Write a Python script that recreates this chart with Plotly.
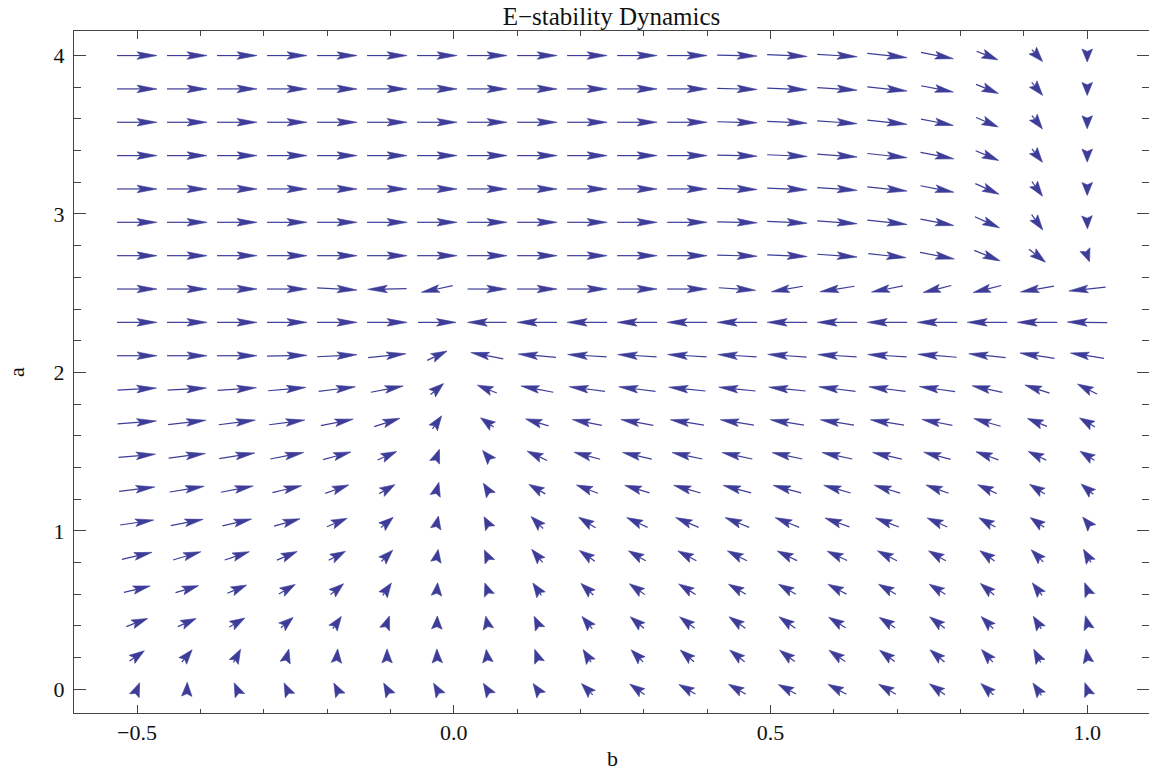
import math
import numpy as np
import plotly.graph_objects as go

# grid of the vector plot
b_grid = list(np.linspace(-0.5, 1.0, 20))
a_grid = list(np.linspace(0.0, 4.0, 20))

# arrow direction on screen (degrees, 0 = +b, 90 = +a), read per row (a index 0..19), columns b index 0..19
ang_r0 = [68, 88, 114, 115, 117, 119, 120, 122, 125, 135, 145, 150, 150, 152, 152, 150, 145, 138, 125, 110]
ang_r1 = [35, 50, 62, 75, 85, 90, 92, 97, 110, 122, 135, 140, 142, 143, 145, 143, 140, 132, 118, 100]
ang_r2 = [21, 24, 30, 40, 55, 70, 88, 102, 115, 130, 140, 143, 145, 145, 148, 147, 143, 135, 122, 105]
ang_r3 = [14, 17, 23, 30, 40, 55, 85, 110, 125, 137, 145, 148, 150, 150, 152, 150, 148, 140, 128, 112]
ang_r4 = [13, 16.6, 18.7, 23, 28, 45, 80, 115, 130, 145, 150, 152, 153, 154, 155, 153, 150, 145, 135, 120]
ang_r5 = [8.5, 11, 13.4, 16, 22.6, 40, 78, 118, 135, 148, 155, 157, 158, 158, 160, 159, 156, 151, 145, 130]
ang_r6 = [7, 9.4, 11, 13.4, 19.6, 30, 75, 122, 150, 159, 163, 164, 165, 165, 164, 163, 160, 155, 148, 140]
ang_r7 = [5, 7, 9, 11, 15.5, 24, 70, 130, 155, 165, 167, 168, 168, 168, 168, 167, 165, 160, 154, 148]
ang_r8 = [4.4, 6.6, 7.3, 7.5, 11.5, 18, 55, 145, 163, 169, 170, 171, 171, 171, 171, 171, 169, 164, 158, 150]
ang_r9 = [3, 3, 4, 5, 7, 11, 40, 158, 169, 172.5, 173, 174, 174, 174, 173, 173, 172, 168, 162, 153]
ang_r10 = [0, 0, 0, 1, 3, 6, 25, 169, 175, 176.5, 176.5, 176.5, 176.5, 176, 176.5, 176.5, 175.5, 174, 171, 171]
ang_r11 = [0, 0, 0, 0, 0, 0, 0, 180, 180, 180, 180, 180, 180, 180, 180, 180, 180, 180, 180, 179]
ang_r12 = [0, 0, 0, 0, -3, 181, 192, 0, 0, 0, 0, 0, -4, 190, 189, 191, 194, 194, 190, 186]
ang_r13 = [0, 0, 0, 0, 0, 0, 0, 0, 0, 0, 0, 0, -1.5, -2.5, -4, -6, -11, -22, -38, -70]
ang_r14 = [0, 0, 0, 0, 0, 0, 0, 0, 0, 0, 0, 0, -1.5, -2.5, -4, -6, -11, -24, -54, -88]
ang_r15 = [0, 0, 0, 0, 0, 0, 0, 0, 0, 0, 0, 0, -1.5, -2.5, -4, -6, -11, -24, -54, -90]
ang_r16 = [0, 0, 0, 0, 0, 0, 0, 0, 0, 0, 0, 0, -1.5, -2.5, -4, -6, -11, -23, -52, -90]
ang_r17 = [0, 0, 0, 0, 0, 0, 0, 0, 0, 0, 0, 0, -1.5, -2.5, -4, -6, -11, -23, -52, -90]
ang_r18 = [0, 0, 0, 0, 0, 0, 0, 0, 0, 0, 0, 0, -1.5, -2.5, -3.5, -6, -11, -22, -50, -90]
ang_r19 = [0, 0, 0, 0, 0, 0, 0, 0, 0, 0, 0, 0, -1.5, -2.5, -3.5, -6, -11, -22, -48, -90]

# arrow magnitude as drawn (40 = longest arrow), read per row
mag_r0 = [14, 14, 14, 14, 14, 14, 14, 14, 14, 16, 18, 19, 20, 20, 21, 20, 19, 17, 15, 14]
mag_r1 = [18, 16, 15, 14, 14, 14, 14, 13, 14, 15, 17, 18, 19, 19, 20, 19, 19, 17, 15, 14]
mag_r2 = [23, 20, 18, 16, 15, 14, 13, 13, 14, 16, 18, 19, 20, 20, 20, 19, 19, 17, 15, 14]
mag_r3 = [27, 24, 21, 19, 17, 15, 13, 13, 15, 17, 19, 20, 20, 20, 21, 20, 19, 18, 16, 14]
mag_r4 = [31, 29, 26, 22, 19, 16, 13, 13, 17, 19, 20, 21, 22, 22, 22, 22, 20, 18, 17, 15]
mag_r5 = [34, 33, 30, 27, 22, 16, 13, 13, 17, 20, 23, 25, 26, 26, 26, 25, 22, 19, 17, 14]
mag_r6 = [36, 35, 33, 30, 25, 18, 14, 14, 19, 23, 26, 28, 29, 29, 28, 27, 24, 21, 18, 16]
mag_r7 = [37, 37, 36, 34, 29, 21, 14, 14, 22, 27, 30, 31, 31, 31, 31, 30, 28, 24, 20, 17]
mag_r8 = [39, 38, 37, 36, 33, 27, 16, 16, 24, 30, 33, 34, 34, 34, 34, 34, 31, 28, 21, 18]
mag_r9 = [39, 39, 39, 38, 37, 33, 17, 21, 33, 36, 37, 37, 37, 37, 37, 37, 36, 31, 26, 22]
mag_r10 = [40, 40, 40, 40, 40, 38, 22, 33, 38, 39, 39, 39, 39, 39, 39, 39, 39, 37, 35, 34]
mag_r11 = [40, 40, 40, 40, 40, 40, 38, 39, 40, 40, 40, 40, 40, 40, 40, 40, 40, 40, 40, 40]
mag_r12 = [40, 40, 40, 40, 40, 39, 32, 39, 40, 40, 40, 40, 37, 32, 35, 32, 29, 29, 34, 37]
mag_r13 = [40, 40, 40, 40, 40, 40, 40, 40, 40, 40, 40, 40, 40, 40, 40, 38, 35, 28, 21, 13]
mag_r14 = [40, 40, 40, 40, 40, 40, 40, 40, 40, 40, 40, 40, 40, 40, 40, 40, 34, 27, 19, 13]
mag_r15 = [40, 40, 40, 40, 40, 40, 40, 40, 40, 40, 40, 40, 40, 40, 40, 40, 34, 26, 18, 13]
mag_r16 = [40, 40, 40, 40, 40, 40, 40, 40, 40, 40, 40, 40, 40, 40, 40, 40, 34, 25, 17, 13]
mag_r17 = [40, 40, 40, 40, 40, 40, 40, 40, 40, 40, 40, 40, 40, 40, 40, 40, 33, 24, 17, 13]
mag_r18 = [40, 40, 40, 40, 40, 40, 40, 40, 40, 40, 40, 40, 40, 40, 40, 40, 33, 24, 17, 13]
mag_r19 = [40, 40, 40, 40, 40, 40, 40, 40, 40, 40, 40, 40, 40, 40, 40, 40, 33, 23, 16, 13]

x_ticks = [-0.5, 0.0, 0.5, 1.0]
x_ticktext = ["\u22120.5", "0.0", "0.5", "1.0"]
y_ticks = [0, 1, 2, 3, 4]
y_ticktext = ["0", "1", "2", "3", "4"]

angles = [ang_r0, ang_r1, ang_r2, ang_r3, ang_r4, ang_r5, ang_r6, ang_r7, ang_r8, ang_r9,
          ang_r10, ang_r11, ang_r12, ang_r13, ang_r14, ang_r15, ang_r16, ang_r17, ang_r18, ang_r19]
mags = [mag_r0, mag_r1, mag_r2, mag_r3, mag_r4, mag_r5, mag_r6, mag_r7, mag_r8, mag_r9,
        mag_r10, mag_r11, mag_r12, mag_r13, mag_r14, mag_r15, mag_r16, mag_r17, mag_r18, mag_r19]

# ---- layout geometry ----
W, H = 1149, 771
ML, MR, MT, MB = 74, 0, 31, 58
x_range = [-0.59945, 1.0975]
y_range = [-0.15, 4.155]
PW, PH = W - ML - MR, H - MT - MB
sx = PW / (x_range[1] - x_range[0])   # px per unit b
sy = PH / (y_range[1] - y_range[0])   # px per unit a
max_len_px = 40.0

ARROW = "#3D3D99"

shaft_x, shaft_y = [], []
head_x, head_y = [], []
for j, a in enumerate(a_grid):
    for k, b in enumerate(b_grid):
        th = math.radians(angles[j][k])
        L = max_len_px * mags[j][k] / 40.0
        d = (math.cos(th), math.sin(th))
        p = (-d[1], d[0])
        tip = (d[0] * L / 2, d[1] * L / 2)
        tail = (-d[0] * L / 2, -d[1] * L / 2)
        hl = min(L, 11 + 0.225 * L)
        hw = 3.8 + max(0.0, 32 - L) * 0.08
        back = (tip[0] - hl * d[0], tip[1] - hl * d[1])
        notch = (back[0] + 0.18 * hl * d[0], back[1] + 0.18 * hl * d[1])
        left = (back[0] + hw * p[0], back[1] + hw * p[1])
        right = (back[0] - hw * p[0], back[1] - hw * p[1])

        def to_data(pt):
            return b + pt[0] / sx, a + pt[1] / sy

        if L > hl + 0.5:
            for pt in (tail, notch):
                xx, yy = to_data(pt)
                shaft_x.append(xx); shaft_y.append(yy)
            shaft_x.append(None); shaft_y.append(None)
        for pt in (tip, left, notch, right, tip):
            xx, yy = to_data(pt)
            head_x.append(xx); head_y.append(yy)
        head_x.append(None); head_y.append(None)

fig = go.Figure()
fig.add_trace(go.Scatter(x=shaft_x, y=shaft_y, mode="lines",
                         line=dict(color=ARROW, width=1.2),
                         hoverinfo="skip", showlegend=False))
fig.add_trace(go.Scatter(x=head_x, y=head_y, mode="lines", fill="toself",
                         fillcolor=ARROW, line=dict(color=ARROW, width=0.6),
                         hoverinfo="skip", showlegend=False))

FONT = "Liberation Serif, Times New Roman, serif"
FRAME = "#444444"
TXT = "#111111"

fig.update_layout(
    width=W, height=H,
    margin=dict(l=ML, r=MR, t=MT, b=MB, pad=0, autoexpand=False),
    paper_bgcolor="white", plot_bgcolor="white",
    font=dict(family=FONT, size=22, color=TXT),
    title=dict(text="E\u2212stability Dynamics", x=0.5, xref="paper", xanchor="center",
               y=1 - 16 / H, yanchor="middle", font=dict(family=FONT, size=25, color=TXT)),
    showlegend=False,
    hovermode=False,
)
fig.update_xaxes(
    range=x_range, showgrid=False, zeroline=False, automargin=False,
    showline=True, linecolor=FRAME, linewidth=1, mirror="allticks",
    ticks="inside", ticklen=8, tickcolor=FRAME, tickwidth=1,
    tickvals=x_ticks, ticktext=x_ticktext,
    minor=dict(ticks="inside", ticklen=4.5, tickcolor=FRAME, dtick=0.1, tick0=0, showgrid=False),
    tickfont=dict(family=FONT, size=22, color=TXT),
)
fig.update_yaxes(
    range=y_range, showgrid=False, zeroline=False, automargin=False,
    showline=True, linecolor=FRAME, linewidth=1, mirror="allticks",
    ticks="inside", ticklen=12, tickcolor=FRAME, tickwidth=1,
    tickvals=y_ticks, ticktext=y_ticktext,
    minor=dict(ticks="inside", ticklen=7, tickcolor=FRAME, dtick=0.2, tick0=0, showgrid=False),
    tickfont=dict(family=FONT, size=22, color=TXT),
    ticklabelstandoff=4,
)
fig.add_annotation(text="b", xref="paper", yref="paper", x=(612 - ML) / PW,
                   y=-(758 - (H - MB)) / PH, xanchor="center", yanchor="middle",
                   showarrow=False, font=dict(family=FONT, size=22, color=TXT))
fig.add_annotation(text="a", xref="paper", yref="paper", x=-(ML - 16) / PW,
                   y=0.5, xanchor="center", yanchor="middle", textangle=-90,
                   showarrow=False, font=dict(family=FONT, size=22, color=TXT))

# the page's default 8px body margin would shift the figure; remove it
fig.write_html("out.html", config={"displayModeBar": False},
               post_script="document.body.style.margin='0';")
